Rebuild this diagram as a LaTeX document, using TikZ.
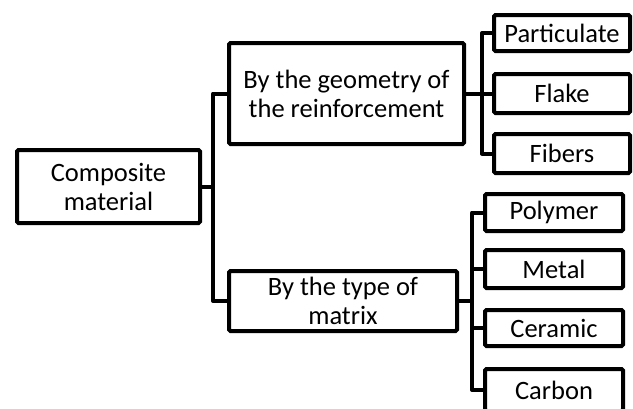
\documentclass[tikz,border=0pt]{standalone}
\usepackage{fontspec}
\setmainfont{Carlito}
\begin{document}
\begin{tikzpicture}[x=1pt,y=-1pt,
  box/.style={draw=black, line width=4pt, rounded corners=1.5pt, fill=white, align=center, inner sep=0pt, font=\fontsize{26.5}{29}\selectfont},
  link/.style={draw=black, line width=4pt, line join=round}]
\useasboundingbox (0,0) rectangle (633,408);
\clip (0,0) rectangle (633,408);
\node[box, minimum width=183pt, minimum height=73pt] (comp) at (108.5,186.5) {Composite\\material};
\node[box, minimum width=235pt, minimum height=101pt] (geo) at (346.5,93.5) {By the geometry of\\the reinforcement};
\node[box, minimum width=228pt, minimum height=60pt] (mat) at (343,301) {By the type of\\matrix};
\node[box, minimum width=136pt, minimum height=36pt] (part) at (562,33) {Particulate};
\node[box, minimum width=136pt, minimum height=39pt] (flake) at (562,93.5) {Flake};
\node[box, minimum width=136pt, minimum height=39pt] (fib) at (562,153.5) {Fibers};
\node[box, minimum width=138pt, minimum height=37pt] (poly) at (554,212.5) {Polymer};
\node[box, minimum width=138pt, minimum height=38pt] (metal) at (554,269) {Metal};
\node[box, minimum width=138pt, minimum height=36pt] (cer) at (554,328) {Ceramic};
\node[box, minimum width=138pt, minimum height=42pt] (carb) at (554,390) {Carbon};
\draw[link] (comp.east) -- ++(11,0) |- (geo.west);
\draw[link] (comp.east) -- ++(11,0) |- (mat.west);
\draw[link] (geo.east) -- ++(16,0) |- (part.west);
\draw[link] (geo.east) -- (flake.west);
\draw[link] (geo.east) -- ++(16,0) |- (fib.west);
\draw[link] (mat.east) -- ++(13,0) |- (poly.west);
\draw[link] (mat.east) -- ++(13,0) |- (metal.west);
\draw[link] (mat.east) -- ++(13,0) |- (cer.west);
\draw[link] (mat.east) -- ++(13,0) |- (carb.west);
\end{tikzpicture}
\end{document}
